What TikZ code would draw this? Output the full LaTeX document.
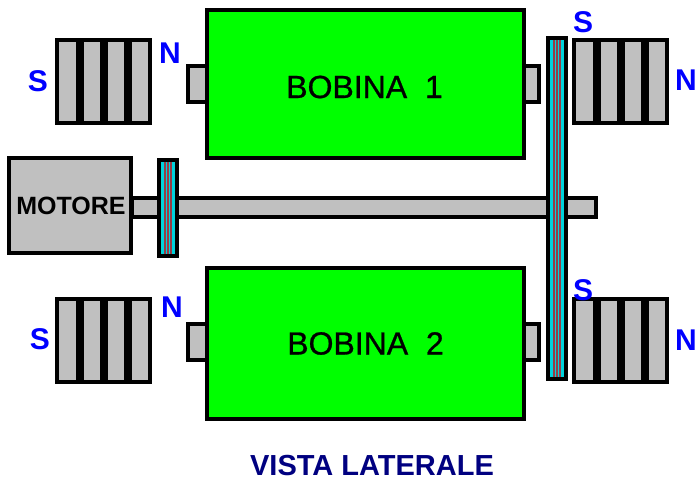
\documentclass[tikz,border=0pt]{standalone}
\usepackage{fontspec}
\setmainfont{Liberation Sans}
\newfontfamily\medio[FakeBold=0.8]{Liberation Sans}
\definecolor{grigio}{RGB}{192,192,192}
\definecolor{verde}{RGB}{0,255,0}
\definecolor{azzurro}{RGB}{0,210,220}
\definecolor{rosso}{RGB}{150,60,70}
\definecolor{blu}{RGB}{0,0,255}
\definecolor{blunotte}{RGB}{0,0,128}
\tikzset{
	pezzo/.style={draw=black, line width=3.5pt, fill=grigio, inner sep=0pt, outer sep=0pt, anchor=north west},
	bobina/.style={pezzo, fill=verde, minimum width=317pt, minimum height=148pt},
	perno/.style={pezzo, minimum width=20pt, minimum height=36pt},
	magnete/.style={pezzo, minimum width=93pt, minimum height=83pt},
	cinghia/.style={pezzo, fill=azzurro, minimum width=18pt},
	polo/.style={text=blu, font=\bfseries\fontsize{30}{30}\selectfont, inner sep=0pt},
	scritta/.style={font=\medio\fontsize{32}{32}\selectfont, inner sep=0pt}
}
\begin{document}
\begin{tikzpicture}[x=1pt,y=-1pt]
	\useasboundingbox (0,0) rectangle (696,481);
	% albero
	\node (albero) [pezzo, minimum width=464pt, minimum height=19pt] at (132,198) {};
	\node (motore) [pezzo, minimum width=122pt, minimum height=95pt] at (9,158) {};
	\node at (motore.center) [xshift=1pt, font=\bfseries\fontsize{25}{25}\selectfont, inner sep=0pt] {MOTORE};
	% bobine
	\node (p1) [perno] at (188,66) {};
	\node (q1) [perno, minimum width=15pt] at (524,66) {};
	\node (b1) [bobina] at (207,10) {};
	\node at (b1.center) [scritta, xshift=-1pt, yshift=-3pt] {BOBINA\ \ 1};
	\node (p2) [perno] at (188,324) {};
	\node (q2) [perno, minimum width=15pt] at (524,324) {};
	\node (b2) [bobina, minimum height=151pt] at (207,268) {};
	\node at (b2.center) [scritta] {BOBINA\ \ 2};
	% magneti
	\foreach \nome/\x/\y in {ms1/57/40, md1/574/40, ms2/57/299, md2/574/299} {
		\node (\nome) [magnete] at (\x,\y) {};
		\foreach \k in {26,50,74}
			\fill (\x+\k-7.5,\y) rectangle (\x+\k+0.5,\y+83);
	}
	% cinghie
	\node (c1) [cinghia, minimum height=96pt] at (159,160) {};
	\node (c2) [cinghia, minimum height=341pt] at (548,38) {};
	\foreach \k in {6,9,12} {
		\draw[rosso, line width=1.2pt] (159+\k,162) -- (159+\k,254);
		\draw[rosso, line width=1.2pt] (548+\k,40) -- (548+\k,377);
	}
	% poli
	\node [polo] at (38,81) {S};
	\node [polo] at (170,53) {N};
	\node [polo] at (583,22) {S};
	\node [polo] at (686,80) {N};
	\node [polo] at (40,339) {S};
	\node [polo] at (172,307) {N};
	\node [polo] at (583,290) {S};
	\node [polo] at (686,340) {N};
	\node [text=blunotte, font=\bfseries\fontsize{29}{29}\selectfont, inner sep=0pt] at (372,466) {VISTA LATERALE};
\end{tikzpicture}
\end{document}
